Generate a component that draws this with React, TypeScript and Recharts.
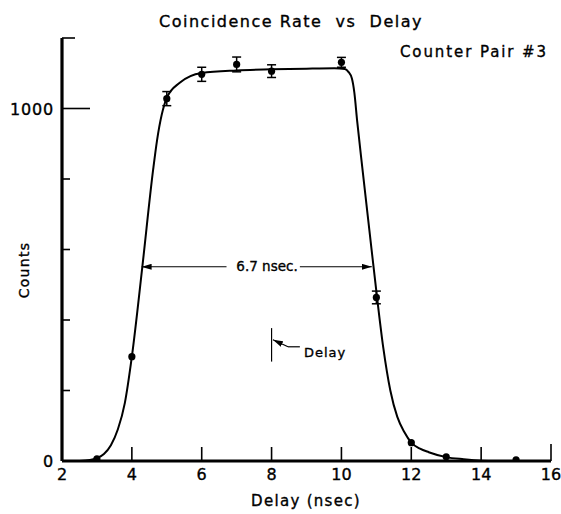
import {
  ComposedChart,
  Line,
  Scatter,
  ErrorBar,
  XAxis,
  YAxis,
  ReferenceLine,
} from "recharts";

// measured points with error bars
const delayWithErr = [5, 6, 7, 8, 10, 11];
const countsWithErr = [1028, 1097, 1125, 1106, 1131, 464];
const countErr = [20, 20, 21, 18, 14, 18];

// measured points, error smaller than the dot
const delayNoErr = [3, 4, 12, 13, 15];
const countsNoErr = [6, 296, 52, 12, 3];

// hand-drawn fit through the points
const curveDelay = [
  2.5, 2.8, 3.0, 3.2, 3.4, 3.6, 3.8, 4.0, 4.3, 4.61, 4.72, 5.0, 5.37, 6.0, 7.0, 8.0, 9.0,
  9.8, 10.1, 10.2, 10.3, 10.37, 10.45, 10.6, 10.8, 11.02, 11.2, 11.4, 11.6, 11.8, 12.0,
  12.25, 12.5, 13.0, 13.5, 14.0, 14.5,
];
const curveCounts = [
  0, 3, 8, 20, 45, 90, 165, 296, 551, 827, 909, 1030, 1073, 1101, 1108, 1111, 1113,
  1114, 1112, 1104, 1085, 1045, 965, 830, 655, 464, 320, 200, 125, 82, 52,
  35, 25, 11, 5, 1, 0,
];

const xTicks = [2, 4, 6, 8, 10, 12, 14, 16];
const yTicks = [0, 200, 400, 600, 800, 1000, 1200];
const yLabels: Record<number, string> = { 0: "0", 1000: "1000" };

// width marker at half height
const halfHeight = 551;
const halfLeft = 4.28;
const halfRight = 10.87;
const gapLeft = 6.71;
const gapRight = 8.81;

// delay setting marker
const delaySetting = 8.0;
const delayMarkLow = 282;
const delayMarkHigh = 377;
const leaderY = 324;
const leaderBend = 8.47;
const leaderTipY = 344;

const withErr = delayWithErr.map((x, i) => ({ x, y: countsWithErr[i], err: countErr[i] }));
const noErr = delayNoErr.map((x, i) => ({ x, y: countsNoErr[i] }));
const curve = curveDelay.map((x, i) => ({ x, y: curveCounts[i] }));

const FONT = "'DejaVu Sans', sans-serif";
const ink = { fill: "#000", stroke: "#000", strokeWidth: 0.35, fontFamily: FONT } as const;

const XTick = (props: any) => {
  const { x, y, payload } = props;
  const v = payload.value;
  return (
    <g>
      {v !== 2 && <line x1={x} x2={x} y1={y} y2={y - (v === 16 ? 17 : 14)} stroke="#000" strokeWidth={1.6} />}
      <text x={x} y={y + 19} textAnchor="middle" fontSize={16} {...ink}>
        {v}
      </text>
    </g>
  );
};

const YTick = (props: any) => {
  const { x, y, payload } = props;
  const v = payload.value;
  const len = v === 1000 ? 28 : v === 1200 ? 13 : v === 0 ? 0 : 8;
  return (
    <g>
      {len > 0 && <line x1={x} x2={x + len} y1={y} y2={y} stroke="#000" strokeWidth={1.6} />}
      {yLabels[v] && (
        <text x={x - 8} y={y + 6} textAnchor="end" fontSize={16} letterSpacing={0.8} {...ink}>
          {yLabels[v]}
        </text>
      )}
    </g>
  );
};

const Dot = (props: any) => <circle cx={props.cx} cy={props.cy} r={3.6} fill="#000" />;

const Arrow = (props: any) => (
  <line
    x1={props.x1}
    y1={props.y1}
    x2={props.x2}
    y2={props.y2}
    stroke="#000"
    strokeWidth={1.2}
    markerEnd="url(#head)"
  />
);

const Plain = (props: any) => (
  <line x1={props.x1} y1={props.y1} x2={props.x2} y2={props.y2} stroke="#000" strokeWidth={1.2} />
);

export default function App() {
  return (
    <div style={{ width: 561, height: 514, background: "#fff" }}>
      <style>{"body{margin:0}"}</style>
      <ComposedChart width={561} height={514} margin={{ top: 38, right: 10, bottom: 23, left: 0 }}>
        <defs>
          <marker id="head" viewBox="0 0 10 6" refX={10} refY={3} markerWidth={10} markerHeight={6} markerUnits="userSpaceOnUse" orient="auto">
            <path d="M0,0 L10,3 L0,6 z" fill="#000" />
          </marker>
        </defs>
        <XAxis
          type="number"
          dataKey="x"
          domain={[2, 16]}
          ticks={xTicks}
          allowDataOverflow
          height={30}
          tickSize={0}
          tickMargin={0}
          tickLine={false}
          axisLine={{ stroke: "#000", strokeWidth: 3 }}
          tick={<XTick />}
          interval={0}
        />
        <YAxis
          type="number"
          dataKey="y"
          domain={[0, 1200]}
          ticks={yTicks}
          allowDataOverflow
          width={62}
          tickSize={0}
          tickMargin={0}
          tickLine={false}
          axisLine={{ stroke: "#000", strokeWidth: 3.2 }}
          tick={<YTick />}
          interval={0}
        />
        <Line
          data={curve}
          dataKey="y"
          type="monotone"
          stroke="#000"
          strokeWidth={2}
          dot={false}
          isAnimationActive={false}
        />
        <Scatter data={withErr} dataKey="y" shape={<Dot />} isAnimationActive={false}>
          <ErrorBar dataKey="err" direction="y" width={4.5} stroke="#000" strokeWidth={1.5} isAnimationActive={false} />
        </Scatter>
        <Scatter data={noErr} dataKey="y" shape={<Dot />} isAnimationActive={false} />

        <ReferenceLine segment={[{ x: gapLeft, y: halfHeight }, { x: halfLeft, y: halfHeight }]} shape={<Arrow />} />
        <ReferenceLine segment={[{ x: gapRight, y: halfHeight }, { x: halfRight, y: halfHeight }]} shape={<Arrow />} />
        <ReferenceLine segment={[{ x: delaySetting, y: delayMarkLow }, { x: delaySetting, y: delayMarkHigh }]} shape={<Plain />} />
        <ReferenceLine segment={[{ x: gapRight, y: leaderY }, { x: leaderBend, y: leaderY }]} shape={<Plain />} />
        <ReferenceLine segment={[{ x: leaderBend, y: leaderY }, { x: delaySetting + 0.04, y: leaderTipY }]} shape={<Arrow />} />

        <text x={291} y={27} textAnchor="middle" fontSize={16} letterSpacing={1.5} style={{ whiteSpace: "pre" }} {...ink}>
          Coincidence Rate  vs  Delay
        </text>
        <text x={548} y={57} textAnchor="end" fontSize={15} letterSpacing={1.9} {...ink}>
          Counter Pair #3
        </text>
        <text x={267} y={271} textAnchor="middle" fontSize={13.5} {...ink}>
          6.7 nsec.
        </text>
        <text x={304} y={357} fontSize={13} letterSpacing={1} {...ink}>
          Delay
        </text>
        <text x={306} y={506} textAnchor="middle" fontSize={15} letterSpacing={1.3} {...ink}>
          Delay (nsec)
        </text>
        <text x={29} y={270} textAnchor="middle" fontSize={14} letterSpacing={1.3} transform="rotate(-90 29 270)" {...ink}>
          Counts
        </text>
      </ComposedChart>
    </div>
  );
}
